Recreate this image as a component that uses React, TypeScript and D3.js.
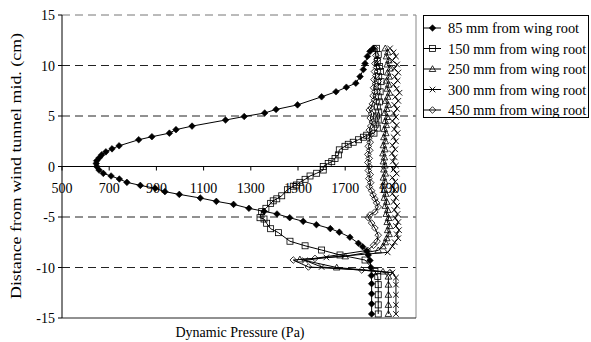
import React from "react";
import * as d3 from "d3";

type P = [number, number];

const xTicks = [500, 700, 900, 1100, 1300, 1500, 1700, 1900];
const yTicks = [-15, -10, -5, 0, 5, 10, 15];
const gridY = [-10, -5, 5, 10];

const seriesNames = [
  "85 mm from wing root",
  "150 mm from wing root",
  "250 mm from wing root",
  "300 mm from wing root",
  "450 mm from wing root",
];

const s85: P[] = [
  [1819, 11.7], [1805, 11.4], [1794, 10.9], [1784, 10.2], [1777, 9.6], [1763, 8.9], [1745, 8.25],
  [1705, 7.85], [1661, 7.4], [1600, 6.9], [1498, 6.1], [1407, 5.65], [1359, 5.3], [1272, 4.95],
  [1193, 4.6], [1051, 4.0], [983, 3.65], [955, 3.3], [881, 2.95], [825, 2.65], [742, 2.05],
  [712, 1.75], [686, 1.45], [668, 1.15], [658, 0.87], [647, 0.57], [645, 0.3], [647, 0],
  [657, -0.35], [675, -0.68], [708, -0.94], [743, -1.24], [775, -1.57], [832, -1.87], [895, -2.16],
  [936, -2.49], [997, -2.76], [1086, -3.12], [1154, -3.45], [1227, -3.75], [1292, -4.14],
  [1356, -4.44], [1411, -4.7], [1465, -5.07], [1522, -5.43], [1578, -5.76], [1637, -6.15],
  [1675, -6.5], [1720, -7.0], [1756, -7.6], [1774, -7.95], [1791, -8.37], [1798, -8.76],
  [1805, -9.3], [1809, -10.0], [1811, -10.8], [1812, -11.6], [1812, -12.6], [1812, -13.6], [1812, -14.6],
];

const s150: P[] = [
  [1833, 11.7], [1840, 11.1], [1836, 10.4], [1845, 9.9], [1850, 9.4], [1842, 8.9], [1852, 8.4],
  [1838, 7.9], [1848, 7.4], [1840, 6.9], [1845, 6.4], [1836, 5.9], [1842, 5.4], [1833, 5.0],
  [1840, 4.6], [1830, 4.2], [1836, 3.8], [1822, 3.3], [1791, 3.1], [1777, 2.9], [1756, 2.65],
  [1734, 2.4], [1713, 2.2], [1699, 2.0], [1675, 1.65], [1671, 1.15], [1657, 0.8], [1643, 0.48],
  [1628, 0.3], [1607, 0.0], [1607, -0.35], [1579, -0.67], [1551, -0.94], [1530, -1.27],
  [1508, -1.57], [1494, -1.83], [1480, -1.95], [1455, -2.3], [1431, -2.9], [1410, -3.2],
  [1395, -3.4], [1384, -3.65], [1364, -4.14], [1346, -4.47], [1339, -5.07], [1356, -5.2],
  [1367, -5.62], [1384, -6.16], [1417, -6.55], [1466, -7.4], [1530, -7.85], [1600, -8.27],
  [1678, -8.76], [1784, -9.26], [1826, -10.4], [1838, -10.9], [1840, -11.7], [1840, -12.7],
  [1840, -13.7], [1840, -14.6],
];

const s250: P[] = [
  [1870, 11.7], [1880, 11.3], [1875, 10.9], [1885, 10.5], [1878, 10.1], [1890, 9.7], [1880, 9.3],
  [1886, 8.9], [1876, 8.5], [1884, 8.1], [1878, 7.7], [1888, 7.3], [1880, 6.9], [1872, 6.5],
  [1882, 6.1], [1876, 5.7], [1868, 5.3], [1878, 4.9], [1870, 4.5], [1874, 4.1], [1866, 3.7],
  [1872, 3.3], [1864, 2.9], [1870, 2.5], [1862, 2.1], [1868, 1.7], [1860, 1.3], [1866, 0.9],
  [1862, 0.5], [1868, 0.1], [1864, -0.3], [1870, -0.7], [1862, -1.1], [1868, -1.5], [1860, -1.9],
  [1866, -2.3], [1872, -2.7], [1866, -3.1], [1876, -3.5], [1870, -3.9], [1880, -4.3], [1874, -4.7],
  [1884, -5.1], [1878, -5.5], [1888, -5.9], [1880, -6.3], [1886, -6.7], [1876, -7.1], [1870, -7.5],
  [1860, -7.9], [1840, -8.3], [1700, -8.9], [1508, -9.2], [1664, -10.0], [1860, -10.4],
  [1883, -10.9], [1883, -11.7], [1883, -12.7], [1883, -13.7], [1883, -14.6],
];

const s300: P[] = [
  [1890, 11.7], [1905, 11.3], [1915, 10.9], [1900, 10.5], [1920, 10.1], [1908, 9.7], [1925, 9.3],
  [1910, 8.9], [1922, 8.5], [1905, 8.1], [1918, 7.7], [1930, 7.3], [1912, 6.9], [1925, 6.5],
  [1908, 6.1], [1920, 5.7], [1905, 5.3], [1915, 4.9], [1900, 4.5], [1918, 4.1], [1908, 3.7],
  [1922, 3.3], [1905, 2.9], [1915, 2.5], [1900, 2.1], [1912, 1.7], [1898, 1.3], [1910, 0.9],
  [1902, 0.5], [1915, 0.1], [1905, -0.3], [1918, -0.7], [1900, -1.1], [1912, -1.5], [1898, -1.9],
  [1910, -2.3], [1900, -2.7], [1915, -3.1], [1905, -3.5], [1920, -3.9], [1908, -4.3], [1922, -4.7],
  [1912, -5.1], [1925, -5.5], [1915, -5.9], [1928, -6.3], [1918, -6.7], [1925, -7.1], [1910, -7.5],
  [1900, -7.9], [1880, -8.5], [1620, -9.0], [1530, -9.3], [1600, -9.95], [1900, -10.5],
  [1915, -11.0], [1915, -11.7], [1915, -12.7], [1915, -13.7], [1915, -14.6],
];

const s450: P[] = [
  [1826, 11.7], [1830, 11.0], [1836, 10.6], [1826, 10.2], [1833, 9.8], [1824, 9.4], [1830, 9.0],
  [1822, 8.6], [1828, 8.2], [1820, 7.8], [1826, 7.4], [1818, 7.0], [1824, 6.6], [1815, 6.2],
  [1810, 5.8], [1802, 5.6], [1812, 5.2], [1806, 4.8], [1815, 4.4], [1808, 4.0], [1802, 3.6],
  [1810, 3.2], [1800, 2.8], [1806, 2.4], [1798, 2.0], [1804, 1.6], [1796, 1.2], [1802, 0.8],
  [1796, 0.4], [1803, 0.0], [1798, -0.4], [1806, -0.8], [1800, -1.2], [1808, -1.6], [1802, -2.0],
  [1812, -2.4], [1818, -2.8], [1826, -3.2], [1833, -3.6], [1840, -4.0], [1826, -4.5], [1805, -4.8],
  [1798, -5.07], [1812, -5.6], [1826, -6.1], [1840, -6.8], [1835, -7.4], [1820, -7.8], [1795, -8.3],
  [1572, -9.1], [1480, -9.26], [1544, -9.95], [1770, -10.25], [1890, -10.5],
];

const allSeries = [s85, s150, s250, s300, s450];

const W = 591;
const H = 342;
const x = d3.scaleLinear().domain([500, 2000]).range([62, 416]);
const y = d3.scaleLinear().domain([-15, 15]).range([318, 15]);
const line = d3.line<P>().x((d) => x(d[0])).y((d) => y(d[1]));

const FONT = "Liberation Serif";

function Marker({ kind, cx, cy }: { kind: number; cx: number; cy: number }) {
  const r = 3;
  if (kind === 0) {
    return <path d={`M${cx},${cy - 3.3}L${cx + 3.3},${cy}L${cx},${cy + 3.3}L${cx - 3.3},${cy}Z`} fill="#000" stroke="#000" strokeWidth={0.6} />;
  }
  if (kind === 1) {
    return <rect x={cx - r} y={cy - r} width={2 * r} height={2 * r} fill="none" stroke="#000" strokeWidth={0.8} />;
  }
  if (kind === 2) {
    return <path d={`M${cx},${cy - 3.3}L${cx + 3.3},${cy + 2.5}L${cx - 3.3},${cy + 2.5}Z`} fill="none" stroke="#000" strokeWidth={0.8} />;
  }
  if (kind === 3) {
    return <path d={`M${cx - 2.8},${cy - 2.8}L${cx + 2.8},${cy + 2.8}M${cx - 2.8},${cy + 2.8}L${cx + 2.8},${cy - 2.8}`} fill="none" stroke="#000" strokeWidth={0.9} />;
  }
  return <path d={`M${cx},${cy - 3.3}L${cx + 3.3},${cy}L${cx},${cy + 3.3}L${cx - 3.3},${cy}Z`} fill="none" stroke="#000" strokeWidth={0.8} />;
}

export default function App() {
  const legendTop = 15;
  const rowYs = [28, 48.5, 69, 89.5, 110];
  const ts = { fontFamily: FONT };
  return (
    <div style={{ position: "absolute", left: 0, top: 0 }}>
      <svg width={W} height={H} style={{ display: "block", background: "#fff", fontFamily: FONT }}>
        <rect x={0} y={0} width={W} height={H} fill="#fff" />
        {gridY.map((g) => (
          <line key={g} x1={62} x2={416} y1={y(g)} y2={y(g)} stroke="#222" strokeWidth={1} strokeDasharray="8,5" />
        ))}
        <line x1={62} x2={416} y1={y(15)} y2={y(15)} stroke="#777" strokeWidth={1} strokeDasharray="8,5" />
        <line x1={416} x2={416} y1={y(15)} y2={y(-15)} stroke="#888" strokeWidth={1} />
        <line x1={62} x2={416} y1={y(-15)} y2={y(-15)} stroke="#222" strokeWidth={1} />
        <line x1={62} x2={62} y1={y(15)} y2={y(-15)} stroke="#000" strokeWidth={1} />
        {yTicks.map((t) => (
          <g key={t}>
            <line x1={58} x2={62} y1={y(t)} y2={y(t)} stroke="#000" />
            <text x={55} y={y(t) + 5} textAnchor="end" fontSize={14} style={ts}>{t}</text>
          </g>
        ))}
        <line x1={62} x2={416} y1={y(0)} y2={y(0)} stroke="#000" strokeWidth={1} />
        {xTicks.map((t) => (
          <g key={t}>
            <line x1={x(t)} x2={x(t)} y1={y(0)} y2={y(0) + 4} stroke="#000" />
            <text x={x(t)} y={193} textAnchor="middle" fontSize={14} style={ts}>{t}</text>
          </g>
        ))}
        {allSeries.map((s, i) => (
          <g key={i}>
            <path d={line(s) || ""} fill="none" stroke="#000" strokeWidth={1} />
            {s.map((d, j) => (
              <Marker key={j} kind={i} cx={x(d[0])} cy={y(d[1])} />
            ))}
          </g>
        ))}
        <text x={240} y={337} textAnchor="middle" fontSize={14} style={ts}>Dynamic Pressure (Pa)</text>
        <text
          transform={`translate(21,166) rotate(-90)`}
          textAnchor="middle"
          fontSize={15}
          textLength={266}
          lengthAdjust="spacingAndGlyphs"
          style={ts}
        >
          Distance from wind tunnel mid. (cm)
        </text>
        <rect x={423.5} y={legendTop + 0.5} width={165} height={102} fill="#fff" stroke="#000" strokeWidth={1} />
        {seriesNames.map((n, i) => (
          <g key={n}>
            <line x1={424} x2={441} y1={rowYs[i]} y2={rowYs[i]} stroke="#000" strokeWidth={1} />
            <Marker kind={i} cx={432.5} cy={rowYs[i]} />
            <text x={448} y={rowYs[i] + 5} fontSize={14.4} style={ts}>{n}</text>
          </g>
        ))}
      </svg>
    </div>
  );
}
